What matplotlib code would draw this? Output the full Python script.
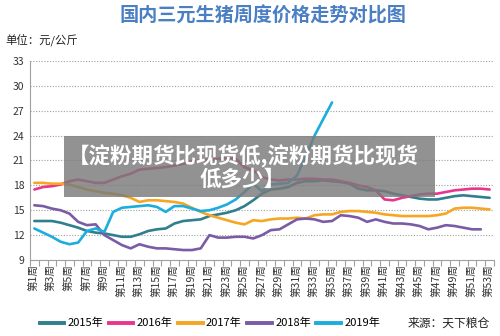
import matplotlib
matplotlib.use("Agg")
import matplotlib.pyplot as plt
from matplotlib.patches import Rectangle
from matplotlib.lines import Line2D

plt.rcParams['font.family'] = ['Noto Sans CJK SC', 'DejaVu Sans']

title = "国内三元生猪周度价格走势对比图"
unit = "单位：元/公斤"
source = "来源：天下粮仓"
overlay = "【淀粉期货比现货低,淀粉期货比现货\n低多少】"

weeks = list(range(1, 54))
week_labels = [f"第{w}周" for w in weeks]
series_names = ["2015年", "2016年", "2017年", "2018年", "2019年"]

y2015 = [13.7, 13.7, 13.7, 13.5, 13.2, 12.9, 12.5, 12.3, 12.2, 12.0, 11.8, 11.8, 12.1, 12.5, 12.7,
         12.8, 13.4, 13.7, 13.8, 13.9, 14.3, 14.5, 14.7, 15.0, 15.5, 16.2, 17.0, 17.5, 17.6, 17.8,
         18.3, 18.5, 18.5, 18.6, 18.5, 18.4, 18.2, 17.6, 17.4, 17.4, 17.3, 17.0, 16.8, 16.6, 16.4,
         16.3, 16.3, 16.5, 16.7, 16.8, 16.7, 16.6, 16.5]
y2016 = [17.5, 17.8, 17.9, 18.1, 18.5, 18.7, 18.5, 18.3, 18.3, 18.7, 19.1, 19.4, 19.9, 20.0, 20.1,
         20.2, 20.4, 20.6, 20.9, 21.0, 21.1, 21.2, 21.3, 21.2, 20.2, 19.8, 19.0, 18.7, 18.6, 18.7,
         18.7, 18.8, 18.8, 18.7, 18.7, 18.5, 18.3, 18.0, 17.8, 17.4, 16.3, 16.2, 16.5, 16.7, 16.9,
         17.0, 17.0, 17.2, 17.4, 17.5, 17.6, 17.6, 17.5]
y2017 = [18.3, 18.3, 18.2, 18.2, 18.1, 17.8, 17.5, 17.3, 17.1, 17.0, 16.8, 16.5, 16.0, 16.2, 16.2,
         16.1, 16.0, 15.8, 15.3, 14.8, 14.4, 14.1, 13.8, 13.5, 13.3, 13.8, 13.7, 13.9, 14.0, 14.0,
         14.1, 14.0, 14.4, 14.5, 14.5, 14.8, 14.9, 14.9, 14.8, 14.7, 14.5, 14.4, 14.3, 14.3, 14.3,
         14.3, 14.4, 14.6, 15.2, 15.3, 15.3, 15.2, 15.1]
y2018 = [15.6, 15.5, 15.2, 15.0, 14.6, 13.6, 13.2, 13.3, 12.0, 11.4, 10.8, 10.4, 10.9, 10.6, 10.4,
         10.4, 10.3, 10.2, 10.2, 10.4, 12.0, 11.7, 11.7, 11.8, 11.8, 11.6, 12.0, 12.6, 12.7, 13.3,
         13.9, 14.0, 13.9, 13.6, 13.7, 14.4, 14.3, 14.1, 13.6, 13.9, 13.6, 13.4, 13.4, 13.3, 13.1,
         12.7, 12.9, 13.2, 13.1, 12.9, 12.7, 12.7]
y2019 = [12.8, 12.3, 11.8, 11.2, 10.9, 11.1, 12.5, 12.8, 12.4, 14.8, 15.3, 15.4, 15.5, 15.6, 15.4,
         14.8, 15.5, 15.5, 15.2, 14.9, 15.0, 15.3, 15.7, 16.3, 17.2, 18.2, 17.3, 18.1, 18.2, 18.3,
         19.2, 21.5, 24.0, 26.0, 28.0]

series = [y2015, y2016, y2017, y2018, y2019]
colors = ["#2f7f8e", "#e8368f", "#f5a623", "#7b5aa6", "#1badde"]
y_ticks = [9, 12, 15, 18, 21, 24, 27, 30, 33]

fig = plt.figure(figsize=(5.0, 3.36), dpi=100)
ax = fig.add_axes([0.06, 0.2262, 0.928, 0.5923])

for ys, c in zip(series, colors):
    ax.plot(weeks[:len(ys)], ys, color=c, lw=1.9, solid_capstyle='round', solid_joinstyle='round')

ax.set_xlim(0.5, 53.5)
ax.set_ylim(9, 33)
ax.set_yticks(y_ticks)
ax.yaxis.grid(True, linestyle=(0, (1, 1.5)), color="#a0a0a0", lw=0.8)
ax.set_axisbelow(True)
ax.tick_params(axis='y', length=0, labelsize=7.5, pad=4, colors="#333333")

ax.set_xticks([w for w in weeks if w % 2 == 1])
ax.set_xticklabels([lab for w, lab in zip(weeks, week_labels) if w % 2 == 1], rotation=90)
ax.tick_params(axis='x', length=0, labelsize=7.6, pad=3, colors="#333333")
ax.set_xticks([w + 0.5 for w in range(0, 54)], minor=True)
ax.tick_params(axis='x', which='minor', length=4, color="#a0a0a0", width=0.8)

for s in ['top', 'right']:
    ax.spines[s].set_visible(False)
ax.spines['left'].set_color("#a0a0a0")
ax.spines['bottom'].set_color("#a0a0a0")

fig.text(0.526, 0.952, title, ha='center', va='center', fontsize=13.8,
         color="#4a7fc4", fontweight='bold')
fig.text(0.01, 0.88, unit, ha='left', va='center', fontsize=8.2, color="#222222")

# overlay box
fig.patches.append(Rectangle((0.128, 1 - 197 / 336), 0.742, 61 / 336, transform=fig.transFigure,
                             facecolor="#7a7a7a", alpha=0.82, edgecolor='none', zorder=5))
fig.text(0.486, 1 - 167 / 336, overlay, ha='center', va='center', fontsize=15.5,
         color='white', fontweight='bold', linespacing=1.05, zorder=6)

handles = [Line2D([0], [0], color=c, lw=2.8) for c in colors]
fig.legend(handles, series_names, loc='center', bbox_to_anchor=(0.42, 0.038), ncol=5,
           frameon=False, fontsize=8, handlelength=2.2, handletextpad=0.3, columnspacing=0.5)
fig.text(0.98, 0.038, source, ha='right', va='center', fontsize=8.5, color="#222222")

fig.savefig("out.png", dpi=100)
